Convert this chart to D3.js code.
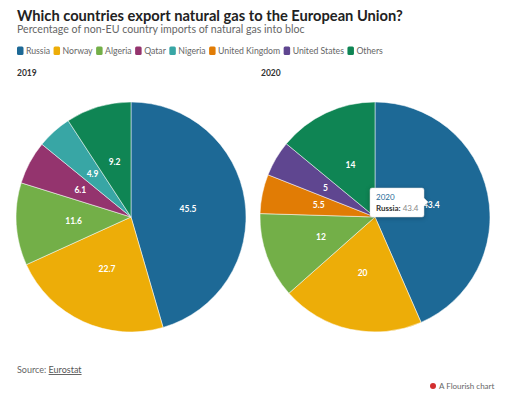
<!DOCTYPE html>
<html><head><meta charset="utf-8">
<script src="https://cdn.jsdelivr.net/npm/d3@7"></script>
<style>
body{margin:0;background:#fff;}
svg{display:block;font-family:"Source Sans Pro",Lato,"Open Sans",sans-serif;}
</style></head>
<body><svg id="c" width="512" height="399"></svg>
<script>
const categories = ["Russia","Norway","Algeria","Qatar","Nigeria","United Kingdom","United States","Others"];
const colors = ["#1d6996","#edad08","#73af48","#94346e","#38a6a5","#e17c05","#5f4690","#0f8554"];
const years = ["2019","2020"];
const values2019 = [45.5,22.7,11.6,6.1,4.9,null,null,9.2];
const values2020 = [43.4,20,12,null,null,5.5,5,14];
const seriesValues = [values2019, values2020];

const svg = d3.select("#c");
function fit(sel, w){ const l = sel.node().getComputedTextLength(); const fs = parseFloat(sel.attr("font-size")); sel.attr("font-size", fs*w/l); }

const title = svg.append("text").attr("x",17).attr("y",21).attr("font-size",17).attr("font-weight",700).attr("fill","#222")
  .text("Which countries export natural gas to the European Union?");
fit(title, 386);
const sub = svg.append("text").attr("x",17).attr("y",33).attr("font-size",12).attr("fill","#666")
  .text("Percentage of non-EU country imports of natural gas into bloc");
fit(sub, 288);

// legend
const color = d3.scaleOrdinal().domain(categories).range(colors);
const lg = svg.append("g");
const probe = lg.append("text").attr("font-size",10);
let tot = 0;
categories.forEach(c=>{ probe.text(c); tot += probe.node().getComputedTextLength(); });
probe.remove();
const lfs = 10*270/tot;
let lx = 17;
categories.forEach(c=>{
  lg.append("rect").attr("x",lx).attr("y",46.5).attr("width",6.5).attr("height",8.5).attr("rx",1.5).attr("fill",color(c));
  const t = lg.append("text").attr("x",lx+9).attr("y",54).attr("font-size",lfs).attr("fill","#666").text(c);
  lx += 9 + t.node().getComputedTextLength() + 3.5;
});

const centers = [[131,217],[375,217]];
const r = 115;
const pie = d3.pie().sort(null).value(d=>d.v);
const arc = d3.arc().innerRadius(0).outerRadius(r);
const labelArc = d3.arc().innerRadius(r*0.5).outerRadius(r*0.5);
const yearX = [17,261];

years.forEach((y,i)=>{
  svg.append("text").attr("x",yearX[i]).attr("y",76).attr("font-size",8.5).attr("font-weight",700).attr("fill","#333").text(y);
  const data = categories.map((c,j)=>({c, v: seriesValues[i][j]})).filter(d=>d.v!=null);
  const g = svg.append("g").attr("transform",`translate(${centers[i]})`);
  const arcs = pie(data);
  g.selectAll("path").data(arcs).join("path").attr("d",arc).attr("fill",d=>color(d.data.c)).attr("stroke","#fff").attr("stroke-width",0.5);
  g.selectAll("text").data(arcs).join("text")
    .attr("transform",d=>`translate(${labelArc.centroid(d)})`)
    .attr("text-anchor","middle").attr("dy","0.35em").attr("font-size",8.5).attr("font-weight",700).attr("fill","#fff")
    .text(d=>d.data.v);
});

// tooltip
const tt = svg.append("g").attr("transform","translate(370,188)");
tt.append("path").attr("d","M0,2 Q0,0 2,0 L52,0 Q54,0 54,2 L54,10 L58,14 L54,18 L54,27 Q54,29 52,29 L2,29 Q0,29 0,27 Z")
  .attr("fill","#fff").attr("stroke","#ddd").attr("stroke-width",0.5).style("filter","drop-shadow(0 1px 2px rgba(0,0,0,0.25))");
tt.append("text").attr("x",6).attr("y",12).attr("font-size",8).attr("fill",color("Russia")).text("2020");
const t2 = tt.append("text").attr("x",6).attr("y",23).attr("font-size",8);
t2.append("tspan").attr("font-weight",700).attr("fill","#333").text("Russia: ");
t2.append("tspan").attr("fill","#888").text(values2020[0]);

// footer
const src = svg.append("text").attr("x",17).attr("y",373).attr("font-size",9).attr("fill","#666");
src.append("tspan").text("Source: ");
src.append("tspan").attr("text-decoration","underline").attr("fill","#555").text("Eurostat");
svg.append("circle").attr("cx",433).attr("cy",386).attr("r",3).attr("fill","#d32f2f");
svg.append("text").attr("x",439).attr("y",389).attr("font-size",8).attr("fill","#666").text("A Flourish chart");
</script></body></html>
